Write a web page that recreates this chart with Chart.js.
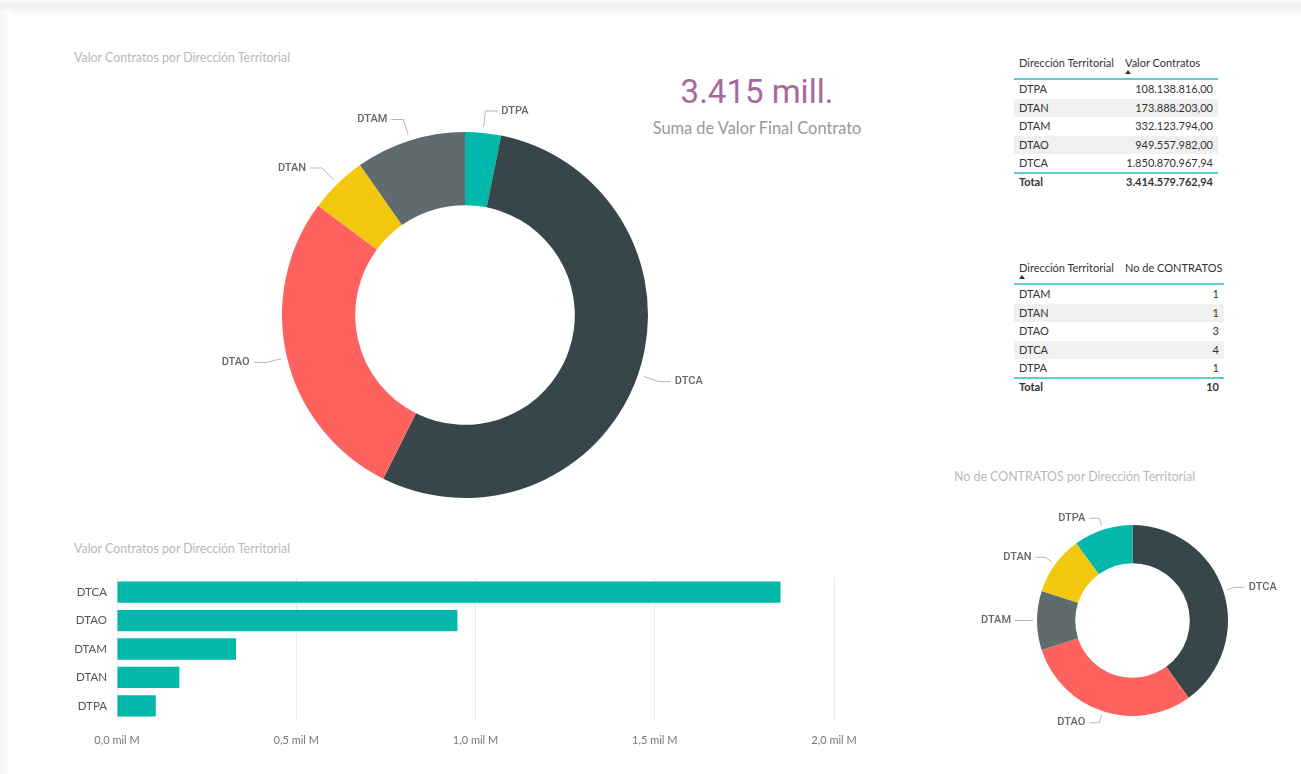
<!DOCTYPE html>
<html>
<head>
<meta charset="utf-8">
<script src="https://cdn.jsdelivr.net/npm/chart.js@4/dist/chart.umd.min.js"></script>
<style>
  body { margin: 0; width: 1301px; height: 774px; background: #fff; position: relative; overflow: hidden; font-family: Lato, "Open Sans", sans-serif; }
  .topband { position: absolute; left: 0; top: 0; width: 1301px; height: 16px; background: linear-gradient(#fff 0px, #ececec 5px, #f6f6f6 10px, #fff 16px); }
  .leftband { position: absolute; left: 0; top: 10px; width: 10px; height: 764px; background: linear-gradient(90deg, #f5f5f5, #fff); }
  .title { position: absolute; font-size: 12.4px; color: #b8b8b8; white-space: nowrap; }
  canvas { position: absolute; }
  .card-val { position: absolute; left: 600px; width: 314px; top: 72px; text-align: center; font-family: Roboto, sans-serif; font-weight: 400; font-size: 33px; color: #a66999; }
  .card-lbl { position: absolute; left: 600px; width: 314px; top: 118px; text-align: center; font-size: 16.4px; color: #999; }
  .tbl { position: absolute; font-size: 11px; color: #333; }
  .tbl .row { position: absolute; left: 0; height: 18.5px; line-height: 18.5px; }
  .tbl .c1 { position: absolute; left: 5px; }
  .tbl .c2 { position: absolute; right: 5px; }
  .tbl .line { position: absolute; left: 0; height: 2px; background: #5fcfc6; }
  .tbl .arrow { position: absolute; width: 0; height: 0; border-left: 3px solid transparent; border-right: 3px solid transparent; border-bottom: 4px solid #333; }
  .tbl .total { font-weight: bold; }
</style>
</head>
<body>
<div class="topband"></div>
<div class="leftband"></div>

<div class="title" style="left:74px; top:50px;">Valor Contratos por Dirección Territorial</div>
<div class="title" style="left:74px; top:541px;">Valor Contratos por Dirección Territorial</div>
<div class="title" style="left:954px; top:469px;">No de CONTRATOS por Dirección Territorial</div>

<div class="card-val" id="cardVal"></div>
<div class="card-lbl">Suma de Valor Final Contrato</div>

<div class="tbl" id="tabla1" style="left:1014px; top:54px; width:204px;"></div>
<div class="tbl" id="tabla2" style="left:1014px; top:259px; width:210px;"></div>

<canvas id="donaValor" width="560" height="460" style="left:185px; top:85px;"></canvas>
<canvas id="donaNum" width="340" height="260" style="left:962px; top:490px;"></canvas>
<canvas id="barras" width="880" height="200" style="left:0px; top:560px;"></canvas>

<script>
// datos
const categorias = ['DTPA', 'DTAN', 'DTAM', 'DTAO', 'DTCA'];
const valorContratos = [108138816.00, 173888203.00, 332123794.00, 949557982.00, 1850870967.94];
const categoriasNum = ['DTAM', 'DTAN', 'DTAO', 'DTCA', 'DTPA'];
const numContratos = [1, 1, 3, 4, 1];
const ordenDonaValor = ['DTPA', 'DTCA', 'DTAO', 'DTAN', 'DTAM'];
const ordenDonaNum = ['DTCA', 'DTAO', 'DTAM', 'DTAN', 'DTPA'];
const ordenBarras = ['DTCA', 'DTAO', 'DTAM', 'DTAN', 'DTPA'];
const ticksBarras = [0, 0.5e9, 1.0e9, 1.5e9, 2.0e9];

const colores = { DTCA: '#374649', DTAO: '#FD625E', DTAM: '#5F6B6D', DTAN: '#F2C80F', DTPA: '#01B8AA' };

const valorDe = c => valorContratos[categorias.indexOf(c)];
const numDe = c => numContratos[categoriasNum.indexOf(c)];

const fmt = (v, dec) => {
  const parts = v.toFixed(dec).split('.');
  const ent = parts[0].replace(/\B(?=(\d{3})+(?!\d))/g, '.');
  return dec ? ent + ',' + parts[1] : ent;
};

const totalValor = valorContratos.reduce((a, b) => a + b, 0);
const totalNum = numContratos.reduce((a, b) => a + b, 0);
document.getElementById('cardVal').textContent = fmt(Math.round(totalValor / 1e6), 0) + ' mill.';

// tablas
const buildTable = (id, head1, head2, cats, vals, totalTxt, arrowLeft, width, dec) => {
  const el = document.getElementById(id);
  const rh = 18.5;
  let html = `<div class="row" style="top:0;width:${width}px"><span class="c1">${head1}</span><span class="c2" style="left:111px;right:auto">${head2}</span></div>`;
  html += `<div class="arrow" style="left:${arrowLeft}px;top:16px"></div>`;
  html += `<div class="line" style="top:24px;width:${width}px"></div>`;
  cats.forEach((c, i) => {
    const bg = i % 2 === 1 ? 'background:#f0f0f0;' : '';
    html += `<div class="row" style="top:${26 + i * rh}px;width:${width}px;${bg}"><span class="c1">${c}</span><span class="c2">${fmt(vals[i], dec)}</span></div>`;
  });
  html += `<div class="line" style="top:${26 + 5 * rh - 1}px;width:${width}px"></div>`;
  html += `<div class="row total" style="top:${26 + 5 * rh}px;width:${width}px"><span class="c1">Total</span><span class="c2">${totalTxt}</span></div>`;
  el.innerHTML = html;
};
buildTable('tabla1', 'Dirección Territorial', 'Valor Contratos', categorias, valorContratos, fmt(totalValor, 2), 111, 204, 2);
buildTable('tabla2', 'Dirección Territorial', 'No de CONTRATOS', categoriasNum, numContratos, fmt(totalNum, 0), 5, 210, 0);

// etiquetas con linea guia
const leaderLabels = {
  id: 'leaderLabels',
  afterDatasetsDraw(chart, args, opts) {
    const ctx = chart.ctx;
    const meta = chart.getDatasetMeta(0);
    ctx.save();
    ctx.strokeStyle = '#b8b8b8';
    ctx.lineWidth = 1;
    ctx.fillStyle = '#666';
    ctx.font = '500 11px Roboto';
    ctx.textBaseline = 'middle';
    meta.data.forEach((arc, i) => {
      const p = arc.getProps(['x', 'y', 'startAngle', 'endAngle', 'outerRadius'], true);
      const mid = (p.startAngle + p.endAngle) / 2;
      const c = Math.cos(mid), s = Math.sin(mid);
      const x0 = p.x + c * (p.outerRadius + opts.start), y0 = p.y + s * (p.outerRadius + opts.start);
      const x1 = p.x + c * (p.outerRadius + opts.elbow), y1 = p.y + s * (p.outerRadius + opts.elbow);
      const dir = c >= 0 ? 1 : -1;
      const x2 = x1 + dir * opts.horiz;
      ctx.beginPath();
      ctx.moveTo(x0, y0);
      ctx.lineTo(x1, y1);
      ctx.lineTo(x2, y1);
      ctx.stroke();
      ctx.textAlign = dir > 0 ? 'left' : 'right';
      ctx.fillText(chart.data.labels[i], x2 + dir * 4, y1);
    });
    ctx.restore();
  }
};

const donutOpts = (pad, lead) => ({
  responsive: false,
  animation: false,
  cutout: '60%',
  layout: { padding: pad },
  plugins: { legend: { display: false }, tooltip: { enabled: false }, leaderLabels: lead }
});

new Chart(document.getElementById('donaValor'), {
  type: 'doughnut',
  data: {
    labels: ordenDonaValor,
    datasets: [{
      data: ordenDonaValor.map(valorDe),
      backgroundColor: ordenDonaValor.map(c => colores[c]),
      borderWidth: 0
    }]
  },
  options: donutOpts({ left: 97, right: 97, top: 47, bottom: 47 }, { start: 6, elbow: 22, horiz: 12 }),
  plugins: [leaderLabels]
});

new Chart(document.getElementById('donaNum'), {
  type: 'doughnut',
  data: {
    labels: ordenDonaNum,
    datasets: [{
      data: ordenDonaNum.map(numDe),
      backgroundColor: ordenDonaNum.map(c => colores[c]),
      borderWidth: 0
    }]
  },
  options: donutOpts({ left: 75, right: 74, top: 35, bottom: 34 }, { start: 4, elbow: 12, horiz: 10 }),
  plugins: [leaderLabels]
});

new Chart(document.getElementById('barras'), {
  type: 'bar',
  data: {
    labels: ordenBarras,
    datasets: [{
      data: ordenBarras.map(valorDe),
      backgroundColor: '#01B8AA',
      categoryPercentage: 1,
      barPercentage: 0.75
    }]
  },
  options: {
    responsive: false,
    animation: false,
    indexAxis: 'y',
    layout: { padding: { top: 18, right: 46, left: 0, bottom: 0 } },
    plugins: { legend: { display: false }, tooltip: { enabled: false } },
    scales: {
      x: {
        min: 0,
        max: 2.0e9,
        afterBuildTicks: axis => { axis.ticks = ticksBarras.map(v => ({ value: v })); },
        afterFit: axis => { axis.height = 40; },
        grid: { color: '#e9e9e9', drawTicks: false },
        border: { display: false },
        ticks: {
          padding: 14,
          color: '#777',
          font: { family: 'Lato', size: 11 },
          callback: v => (v / 1e9).toFixed(1).replace('.', ',') + ' mil M'
        }
      },
      y: {
        afterFit: axis => { axis.width = 117; },
        grid: { display: false, drawTicks: false },
        border: { display: false },
        ticks: { padding: 10, color: '#555', font: { family: 'Lato', size: 11.5 } }
      }
    }
  }
});
</script>
</body>
</html>
